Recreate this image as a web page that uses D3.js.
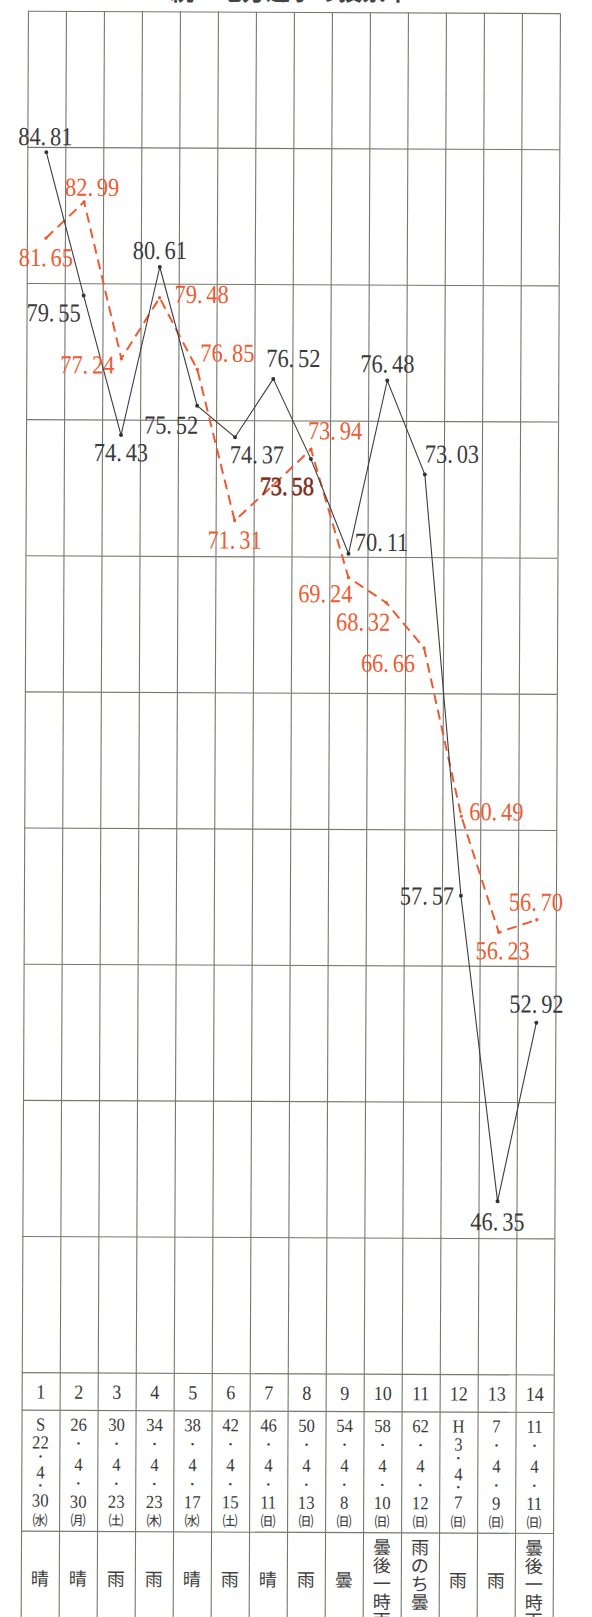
<!DOCTYPE html>
<html><head><meta charset="utf-8">
<script src="https://cdn.jsdelivr.net/npm/d3@7"></script>
<style>body{margin:0;background:#fff}svg{display:block}</style>
</head><body>
<script>
// ---------------- data ----------------
const categories = [1,2,3,4,5,6,7,8,9,10,11,12,13,14];
const seriesBlack = [84.81,79.55,74.43,80.61,75.52,74.37,76.52,73.58,70.11,76.48,73.03,57.57,46.35,52.92];
const seriesOrange = [81.65,82.99,77.24,79.48,76.85,71.31,72.6,73.94,69.24,68.32,66.66,60.49,56.23,56.70];
const orangeLabelShown = [true,true,true,true,true,true,false,true,true,true,true,true,true,true];
const yTicks = [40,45,50,55,60,65,70,75,80,85,90];
const eraLabels = ["S","","","","","","","","","","","H","",""];
const yearLabels = ["22","26","30","34","38","42","46","50","54","58","62","3","7","11"];
const monthLabels = ["4","4","4","4","4","4","4","4","4","4","4","4","4","4"];
const dayLabels = ["30","30","23","23","17","15","11","13","8","10","12","7","9","11"];
const weekdayLabels = ["㈬","㈪","㈯","㈭","㈬","㈯","㈰","㈰","㈰","㈰","㈰","㈰","㈰","㈰"];
const weatherLabels = ["晴","晴","雨","雨","晴","雨","晴","雨","曇","曇後一時雨","雨のち曇","雨","雨","曇後一時雨"];
const titleText = "統一地方選挙の投票率";

// ---------------- layout (not data) ----------------
const blackLabelOffsets = [[-1,-7],[-30,26],[0,26],[0,-8],[-26,28],[22,26],[20,-12],[-24,36],[33,-3],[0,-8],[27,-12],[-34,9],[0,29],[0,-10]];
const orangeLabelOffsets = [[0,28],[8,-6],[-34,15],[42,5],[30,-8],[0,28],[0,0],[24,-10],[-23,25],[-23,28],[-36,24],[35,4],[4,27],[-1,-9]];

const W = 592, H = 1617;
const L = 28, R = 560, T = 10.6, B = 1372;
const ROW1 = 1410, ROW2 = 1531;
const gridColor = "#76786e";
const textGray = "#3a3a3a";
const orange = "#ef5a30";
const serif = "'Liberation Serif','DejaVu Serif',serif";
const cjk = "'Noto Sans CJK JP','Noto Sans CJK SC',sans-serif";

const x = d3.scaleBand().domain(categories).range([L, R]);
const xb = d3.scaleLinear().domain([0, categories.length]).range([L, R]);
const y = d3.scaleLinear().domain([40, 90]).range([B, T]);
const cx = d => x(d) + x.bandwidth() / 2;

const svg = d3.select("body").append("svg").attr("width", W).attr("height", H);

// title (mostly off the top of the page)
svg.append("text").attr("x", 290).attr("y", -0.5).attr("text-anchor", "middle")
  .attr("font-family", cjk).attr("font-weight", "bold").attr("font-size", 24)
  .attr("fill", "#444").text(titleText);

const g = svg.append("g").attr("transform", "rotate(0.26)");

// horizontal grid
g.append("g").attr("transform", `translate(${L},0)`)
  .call(d3.axisLeft(y).tickValues(yTicks).tickSize(-(R - L)).tickFormat(""))
  .call(a => { a.select(".domain").remove(); a.selectAll("line").attr("stroke", gridColor).attr("stroke-width", 1.1); });

// vertical grid through chart and table
g.append("g").attr("transform", `translate(0,${T})`)
  .call(d3.axisTop(xb).tickValues(d3.range(0, categories.length + 1)).tickSize(-(H + 30 - T)).tickFormat(""))
  .call(a => { a.select(".domain").remove(); a.selectAll("line").attr("stroke", gridColor).attr("stroke-width", 1.1); });

// table row lines
[ROW1, ROW2].forEach(v => g.append("line").attr("x1", L).attr("x2", R).attr("y1", v).attr("y2", v)
  .attr("stroke", gridColor).attr("stroke-width", 1.1));

// orange dashed series
const lineGen = d3.line().x((d, i) => cx(categories[i])).y(d => y(d));
g.append("path").datum(seriesOrange).attr("d", lineGen).attr("fill", "none")
  .attr("stroke", orange).attr("stroke-width", 2).attr("stroke-dasharray", "10,6");
g.selectAll("circle.o").data(seriesOrange).join("circle").attr("class", "o")
  .attr("cx", (d, i) => cx(categories[i])).attr("cy", d => y(d)).attr("r", 1.7).attr("fill", orange);

// black series
g.append("path").datum(seriesBlack).attr("d", lineGen).attr("fill", "none")
  .attr("stroke", "#3c3c3c").attr("stroke-width", 1.1);
g.selectAll("circle.b").data(seriesBlack).join("circle").attr("class", "b")
  .attr("cx", (d, i) => cx(categories[i])).attr("cy", d => y(d)).attr("r", 2).attr("fill", "#333");

function numLabel(px, py, v, color, bold) {
  const t = g.append("text").attr("transform", `translate(${px},${py}) scale(0.86,1)`)
    .attr("text-anchor", "middle").attr("font-family", serif).attr("font-size", 26).attr("fill", color);
  if (bold) t.attr("stroke", color).attr("stroke-width", 0.6);
  const s = v.toFixed(2).split(".");
  t.append("tspan").text(s[0] + ".");
  t.append("tspan").attr("dx", 4.5).text(s[1]);
}
seriesBlack.forEach((v, i) => {
  const o = blackLabelOffsets[i];
  numLabel(cx(categories[i]) + o[0], y(v) + o[1], v, i === 7 ? "#7e2d1e" : textGray, i === 7);
});
seriesOrange.forEach((v, i) => {
  if (!orangeLabelShown[i]) return;
  const o = orangeLabelOffsets[i];
  numLabel(cx(categories[i]) + o[0], y(v) + o[1], v, orange, false);
});

// table: numbers row
categories.forEach(c => {
  g.append("text").attr("transform", `translate(${cx(c)},${(B + ROW1) / 2 + 0.5}) scale(0.9,1)`)
    .attr("text-anchor", "middle").attr("dominant-baseline", "central")
    .attr("font-family", serif).attr("font-size", 20).attr("fill", textGray).text(c);
});

// table: dates
categories.forEach((c, i) => {
  let items, ys;
  if (eraLabels[i]) {
    items = [eraLabels[i], yearLabels[i], "•", monthLabels[i], "•", dayLabels[i], weekdayLabels[i]];
    ys = [1424, 1442, 1456, 1472, 1485, 1500, 1519];
  } else {
    items = [yearLabels[i], "•", monthLabels[i], "•", dayLabels[i], weekdayLabels[i]];
    ys = [1424, 1443, 1464, 1483, 1501, 1519];
  }
  items.forEach((s, k) => {
    const isDot = s === "•", isWd = k === items.length - 1;
    g.append("text").attr("transform", `translate(${cx(c)},${ys[k]}) scale(${isWd || isDot ? 1 : 0.9},1)`)
      .attr("text-anchor", "middle").attr("dominant-baseline", "central")
      .attr("font-family", isWd ? cjk : serif)
      .attr("font-size", isDot ? 10 : (isWd ? 15 : 18.5))
      .attr("fill", textGray).text(s);
  });
});

// table: weather (vertical text)
categories.forEach((c, i) => {
  const chars = Array.from(weatherLabels[i]);
  chars.forEach((ch, k) => {
    const yy = chars.length === 1 ? 1577 : 1544 + k * 18.3;
    g.append("text").attr("x", cx(c)).attr("y", yy)
      .attr("text-anchor", "middle").attr("dominant-baseline", "central")
      .attr("font-family", cjk).attr("font-size", 18).attr("fill", "#404040").text(ch);
  });
});
</script>
</body></html>
